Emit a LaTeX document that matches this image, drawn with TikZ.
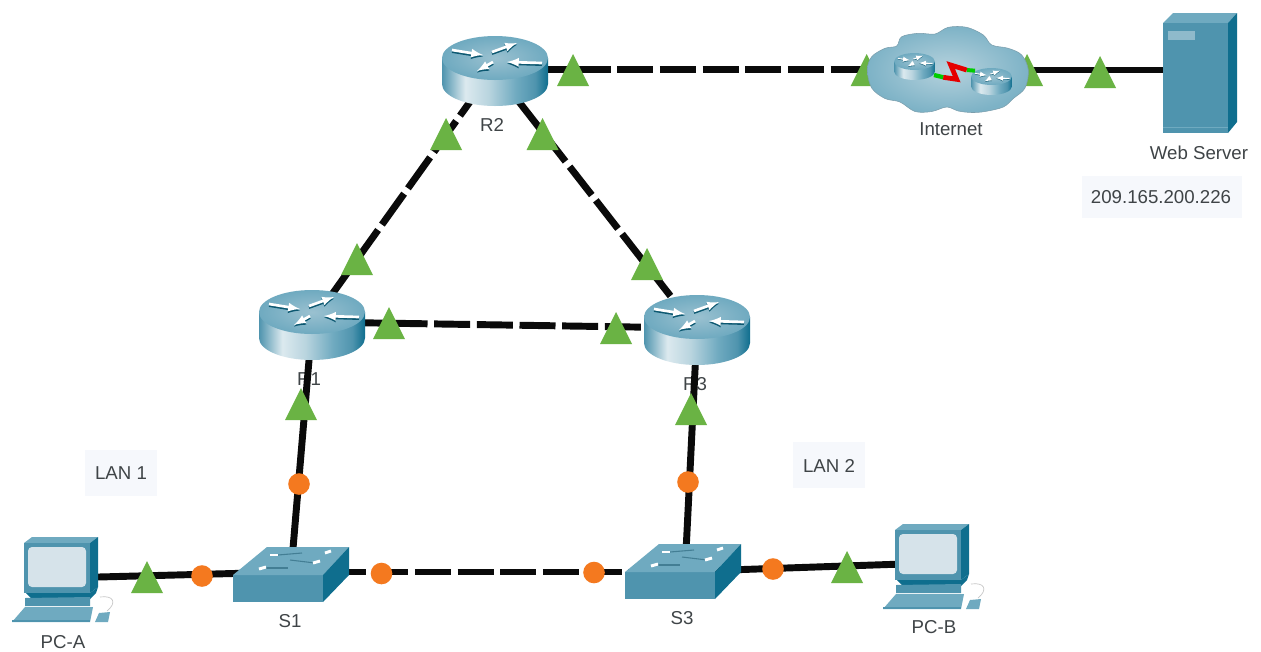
\documentclass[tikz,border=0pt]{standalone}
\usepackage{fontspec}
\setmainfont{Liberation Sans}
\definecolor{tealA}{HTML}{4F94AE}
\definecolor{tealB}{HTML}{6FAAC0}
\definecolor{tealC}{HTML}{0F6E8E}
\definecolor{tealD}{HTML}{8FBACB}
\definecolor{scr}{HTML}{D6E3EA}
\definecolor{txt}{HTML}{3F4447}
\definecolor{pale}{HTML}{F6F8FC}
\definecolor{tri}{HTML}{6AB344}
\definecolor{org}{HTML}{F4791F}
\definecolor{lnk}{HTML}{0A0A0A}
\pgfdeclarehorizontalshading{rbody}{100bp}{color(0bp)=(tealA); color(25bp)=(tealA); color(36bp)=(white!80!tealA); color(47bp)=(white!60!tealA); color(60bp)=(tealB); color(69bp)=(tealA); color(75bp)=(tealC); color(100bp)=(tealC)}
\tikzset{
  x=0.75pt, y=-0.75pt,
  lbl/.style={font=\fontsize{14}{16}\selectfont, text=txt, inner sep=0pt},
  notebox/.style={fill=pale, draw=none, inner sep=0pt},
  center dot/.style={inner sep=0pt, minimum size=0pt},
  solidlink/.style={draw=lnk, line width=5.2pt},
  dashlink/.style={draw=lnk, line width=5.2pt, dash pattern=on 27pt off 5pt},
  trimark/.pic={\fill[tri] (0,-16) -- (16,16) -- (-16,16) -- cycle;},
  dotmark/.style={circle, fill=org, minimum size=16.2pt, inner sep=0pt},
  router/.pic={
    \shade[shading=rbody] (-53,-13) -- (-53,13) .. controls (-53,25.15) and (-29.3,35) .. (0,35) .. controls (29.3,35) and (53,25.15) .. (53,13) -- (53,-13) -- cycle;
    \shade[inner color=tealD!90!white, outer color=tealB] (0,-13) ellipse [x radius=53, y radius=22];
    \foreach \ax/\ay/\bx/\by in {-43/-21/-12/-16, -3/-19/22/-28, -2/-9/-18/0, 47/-8/12/-9}{
      \draw[tealC!80!black, line width=#1, -latex] (\ax,\ay+1.6) -- (\bx,\by+1.6);
      \draw[white, line width=#1, -latex] (\ax,\ay) -- (\bx,\by);
    }
  },
  switchbox/.pic={
    \fill[tealA] (0,0) rectangle (90,27);
    \fill[tealB] (0,0) -- (34,-28) -- (116,-28) -- (90,0) -- cycle;
    \fill[tealC] (90,0) -- (116,-28) -- (116,0) -- (90,27) -- cycle;
    \foreach \ax/\ay/\bx/\by in {45/-20/69/-22, 57/-15/82/-12, 33/-7/55/-7}{
      \draw[tealA!85!black, line width=.8pt] (\ax,\ay) -- (\bx,\by);
    }
    \foreach \ax/\ay/\bx/\by in {37/-20/45/-20, 92/-22/98/-24, 80/-12/87/-14, 26/-6/33/-8}{
      \draw[white, line width=2.2pt] (\ax,\ay) -- (\bx,\by);
    }
  },
  pcbox/.pic={
    \fill[tealB] (0,6) -- (8,0) -- (74,0) -- (66,6) -- cycle;
    \fill[tealC] (66,6) -- (74,0) -- (74,50) -- (66,56) -- cycle;
    \fill[tealA] (0,6) rectangle (66,56);
    \fill[scr, rounded corners=3pt] (4,10) rectangle (62,50);
    \fill[tealC] (2,56) -- (66,56) -- (74,50) -- (72,56) -- (66,62) -- (8,62) -- cycle;
    \fill[tealA] (1,61) -- (66,60) -- (66,69) -- (1,69) -- cycle;
    \fill[tealB] (-12,85) -- (1,70) -- (69,70) -- (66,85) -- cycle;
    \fill[tealA] (-12,83) rectangle (66,85);
    \fill[tealB] (71,85) -- (75,76) -- (86,75) -- (84,85) -- cycle;
    \draw[gray!45, line width=.5pt] (83,74) .. controls (93,66) and (90,58) .. (76,60);
  },
  serverbox/.pic={
    \fill[tealB] (0,0) -- (10,-10) -- (74,-10) -- (65,0) -- cycle;
    \fill[tealC] (65,0) -- (74,-10) -- (74,99) -- (65,110) -- cycle;
    \fill[tealA] (0,0) rectangle (65,110);
    \fill[tealD] (5,8) rectangle (32,17);
    \fill[tealB] (0,104) rectangle (65,105);
  },
  cloudshape/.pic={
    \shade[inner color=tealD!65!white, outer color=tealB!90!white, draw=tealD!85!black, line width=.4pt]
      plot[smooth cycle, tension=.55] coordinates {
      (867.3,70) (871.7,56.7) (885,48.3) (896.7,46) (901.7,36.7) (918.3,33.3) (935,34) (948.3,27.3) (966.7,27.3)
      (983.3,35) (991.7,45) (1008.3,48.3) (1021.7,55) (1028.3,70) (1025,88) (1013.3,98.5) (1003.3,107)
      (985,111.5) (971.7,112.5) (958.3,111) (946.7,107) (931.7,111.5) (915,111.5) (900,102) (885,98.5) (871.7,88)};
  },
}
\begin{document}
\begin{tikzpicture}
\useasboundingbox (0,0) rectangle (1261,651);
\fill[white] (0,0) rectangle (1261,651);

% device centres
\node[center dot] (R2) at (495,71) {};
\node[center dot] (R1) at (312,325) {};
\node[center dot] (R3) at (697,330) {};
\node[center dot] (S1) at (291,572) {};
\node[center dot] (S3) at (670,572) {};
\node[center dot] (PCA) at (60,578) {};
\node[center dot] (PCB) at (932,563) {};
\node[center dot] (NET) at (948,70) {};
\node[center dot] (WEB) at (1195,70) {};
\coordinate (S3up) at (685,572);
\coordinate (R2e) at (495,69.5);
\coordinate (NETw) at (948,69.5);
\coordinate (R2sw) at (492,71);
\coordinate (R1ne) at (310,325);
\coordinate (R1e) at (312,322);
\coordinate (R3w) at (697,328);

% notes and labels
\node[notebox, minimum width=54pt, minimum height=35pt] (lanA) at (121,473) {};
\node[lbl] (lanAt) at (121,473) {LAN 1};
\node[notebox, minimum width=54pt, minimum height=35pt] (lanB) at (829,465) {};
\node[lbl] (lanBt) at (829,466) {LAN 2};
\node[notebox, minimum width=120pt, minimum height=31pt] (ipbox) at (1162,197) {};
\node[lbl] (ipt) at (1161,197) {209.165.200.226};
\node[lbl] (r2t) at (492,125) {R2};
\node[lbl] (r1t) at (309,379) {R1};
\node[lbl] (r3t) at (695,384) {R3};
\node[lbl] (s1t) at (290,621) {S1};
\node[lbl] (s3t) at (682,618) {S3};
\node[lbl] (pcat) at (63,642) {PC-A};
\node[lbl] (pcbt) at (934,627) {PC-B};
\node[lbl] (nett) at (951,129) {Internet};
\node[lbl] (webt) at (1199,153) {Web Server};

% links
\draw[dashlink, dash phase=4.35pt] (R2e) -- (NETw);
\draw[solidlink] (NET) -- (WEB);
\draw[dashlink, dash pattern=on 28.5pt off 5pt, dash phase=20.8pt] (R2sw) -- (R1ne);
\draw[dashlink, dash phase=5.25pt] (R2) -- (R3);
\draw[dashlink, dash phase=4.35pt] (R1e) -- (R3w);
\draw[solidlink] (R1) -- (S1);
\draw[solidlink] (R3) -- (S3up);
\draw[dashlink, dash phase=3.3pt] (S1) -- (S3);
\draw[solidlink] (PCA) -- (S1);
\draw[solidlink] (S3) -- (PCB);

% markers beside the cloud
\pic at (866.7,70) {trimark};
\pic at (1027,70) {trimark};

% devices
\pic at (495,71) {router=2pt};
\pic at (312,325) {router=2pt};
\pic at (697,330) {router=2pt};
\pic at (233,575) {switchbox};
\pic at (625,572) {switchbox};
\pic at (24,537) {pcbox};
\pic at (895,524) {pcbox};
\pic at (1163,23) {serverbox};
\pic at (0,0) {cloudshape};
\pic[scale=.385] at (914.5,66.5) {router=.8pt};
\pic[scale=.385] at (991.5,81.5) {router=.8pt};
\draw[green!80!black, line width=3.2pt] (934,75) -- (943.3,77.3);
\draw[green!80!black, line width=3pt] (966.7,70) -- (975,70.7);
\draw[red!90!black, line width=3.6pt, line join=miter] (943.3,77.3) -- (956.7,79.3) -- (950.7,65) -- (966.7,70);

% status markers
\foreach \px/\py in {573/70, 1100/72, 446/134, 542.5/134, 357/259, 647/264, 389/323, 616/328, 301/404, 691/409, 147/577, 847/567}{
  \pic at (\px,\py) {trimark};
}
\node[dotmark] (o1) at (299,484) {};
\node[dotmark] (o2) at (688,482) {};
\node[dotmark] (o3) at (202,576) {};
\node[dotmark] (o4) at (381.5,573.5) {};
\node[dotmark] (o5) at (594,572.5) {};
\node[dotmark] (o6) at (773,569) {};
\end{tikzpicture}
\end{document}
